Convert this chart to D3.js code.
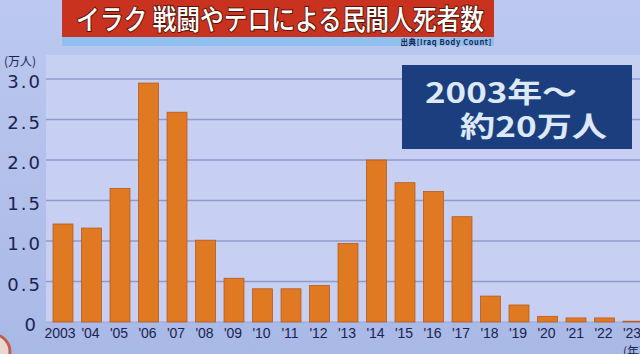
<!DOCTYPE html>
<html>
<head>
<meta charset="utf-8">
<script src="https://cdn.jsdelivr.net/npm/d3@7"></script>
<style>
  body { margin: 0; background: #b8c4ec; }
  svg { display: block; }
</style>
</head>
<body>
<div id="chart"></div>
<script>
// data (万人)
var years = ["2003", "'04", "'05", "'06", "'07", "'08", "'09", "'10", "'11", "'12", "'13",
             "'14", "'15", "'16", "'17", "'18", "'19", "'20", "'21", "'22", "'23"];
var deaths = [1.21, 1.16, 1.65, 2.95, 2.59, 1.01, 0.54, 0.41, 0.41, 0.45, 0.97,
              2.0, 1.72, 1.61, 1.30, 0.32, 0.21, 0.07, 0.05, 0.05, 0.01];
var yTicks = [0, 0.5, 1.0, 1.5, 2.0, 2.5, 3.0];

var W = 640, H = 354;

var svg = d3.select("#chart")
    .append("svg")
    .attr("width", W)
    .attr("height", H);

// background
var defs = svg.append("defs");
var bg = defs.append("linearGradient").attr("id", "bg").attr("x1", 0).attr("y1", 0).attr("x2", 0).attr("y2", 1);
bg.append("stop").attr("offset", "0%").attr("stop-color", "#bcc8ef");
bg.append("stop").attr("offset", "100%").attr("stop-color", "#a9b9e6");
svg.append("rect").attr("width", W).attr("height", H).attr("fill", "url(#bg)");

// scales
var x = d3.scaleBand()
    .domain(years)
    .range([48.75, 48.75 + 21 * 28.5])
    .paddingInner(0.3)
    .paddingOuter(0.15);

var y = d3.scaleLinear()
    .domain([0, 3])
    .range([322, 79]);

// plot area
svg.append("rect")
    .attr("x", 46).attr("y", 55)
    .attr("width", W - 46).attr("height", y(0) - 55)
    .attr("fill", "#c7d0f3");

// grid lines
svg.append("g")
    .selectAll("line")
    .data(yTicks.filter(d => d > 0))
    .enter()
    .append("line")
    .attr("x1", 46).attr("x2", W)
    .attr("y1", d => y(d)).attr("y2", d => y(d))
    .attr("stroke", "#8e9bcb")
    .attr("stroke-width", 1.5);

svg.append("line")
    .attr("x1", 46).attr("x2", W)
    .attr("y1", y(0)).attr("y2", y(0))
    .attr("stroke", "#9aa6d2")
    .attr("stroke-width", 1);

// y tick labels
svg.append("g")
    .selectAll("text")
    .data(yTicks)
    .enter()
    .append("text")
    .attr("x", d => d === 0 ? 38 : 42)
    .attr("y", d => y(d) + 9)
    .attr("text-anchor", "end")
    .attr("font-family", "DejaVu Sans")
    .attr("font-size", 18)
    .attr("letter-spacing", 2)
    .attr("fill", "#1b2350")
    .text(d => d === 0 ? "0" : d3.format(".1f")(d));

svg.append("text")
    .attr("x", 4).attr("y", 66)
    .attr("font-family", "Noto Sans CJK JP")
    .attr("font-size", 12)
    .attr("fill", "#1b2350")
    .text("(万人)");

// bars
svg.append("g")
    .selectAll("rect")
    .data(deaths)
    .enter()
    .append("rect")
    .attr("x", (d, i) => x(years[i]))
    .attr("y", d => y(d))
    .attr("width", x.bandwidth())
    .attr("height", d => y(0) - y(d))
    .attr("fill", "#e07a22")
    .attr("stroke", "#b9591c")
    .attr("stroke-width", 0.8);

// x labels
svg.append("g")
    .selectAll("text")
    .data(years)
    .enter()
    .append("text")
    .attr("x", d => x(d) + x.bandwidth() / 2 + (d === "2003" ? -3 : -1))
    .attr("y", 338)
    .attr("text-anchor", "middle")
    .attr("font-family", "Liberation Sans")
    .attr("font-size", 14)
    .attr("fill", "#1b2350")
    .text(d => d);

svg.append("text")
    .attr("x", 623).attr("y", 356)
    .attr("font-family", "Noto Sans CJK JP")
    .attr("font-size", 12)
    .attr("fill", "#1b2350")
    .text("(年)");

// title banner
svg.append("rect")
    .attr("x", 62).attr("y", 0).attr("width", 432).attr("height", 37)
    .attr("fill", "#c9321f");
svg.append("rect")
    .attr("x", 62).attr("y", 37).attr("width", 432).attr("height", 9)
    .attr("fill", "#8fc0ee");

svg.append("text")
    .attr("x", 76).attr("y", 30)
    .attr("textLength", 408)
    .attr("lengthAdjust", "spacingAndGlyphs")
    .attr("font-family", "Noto Sans CJK JP")
    .attr("font-weight", 500)
    .attr("font-size", 28)
    .attr("fill", "#ffffff")
    .attr("stroke", "#5c1409")
    .attr("stroke-width", 2)
    .attr("paint-order", "stroke")
    .text("イラク 戦闘やテロによる民間人死者数");

svg.append("text")
    .attr("x", 492).attr("y", 45)
    .attr("text-anchor", "end")
    .attr("font-family", "Noto Sans CJK JP")
    .attr("font-weight", 700)
    .attr("font-size", 7.5)
    .attr("letter-spacing", 0.6)
    .attr("fill", "#1b2350")
    .text("出典[Iraq Body Count]");

// annotation box
svg.append("rect")
    .attr("x", 402).attr("y", 65).attr("width", 230).attr("height", 84)
    .attr("fill", "#1b3f7e");

svg.append("text")
    .attr("x", 425).attr("y", 103)
    .attr("textLength", 152)
    .attr("lengthAdjust", "spacingAndGlyphs")
    .attr("font-family", "Noto Sans CJK JP")
    .attr("font-weight", 700)
    .attr("font-size", 28)
    .attr("fill", "#dde8fa")
    .text("2003年〜");

svg.append("text")
    .attr("x", 460).attr("y", 137)
    .attr("textLength", 147)
    .attr("lengthAdjust", "spacingAndGlyphs")
    .attr("font-family", "Noto Sans CJK JP")
    .attr("font-weight", 700)
    .attr("font-size", 28)
    .attr("fill", "#dde8fa")
    .text("約20万人");

// corner logo fragment
svg.append("circle")
    .attr("cx", -8).attr("cy", 352).attr("r", 18)
    .attr("fill", "#e8d8d0")
    .attr("stroke", "#c0604a")
    .attr("stroke-width", 3);
</script>
</body>
</html>
